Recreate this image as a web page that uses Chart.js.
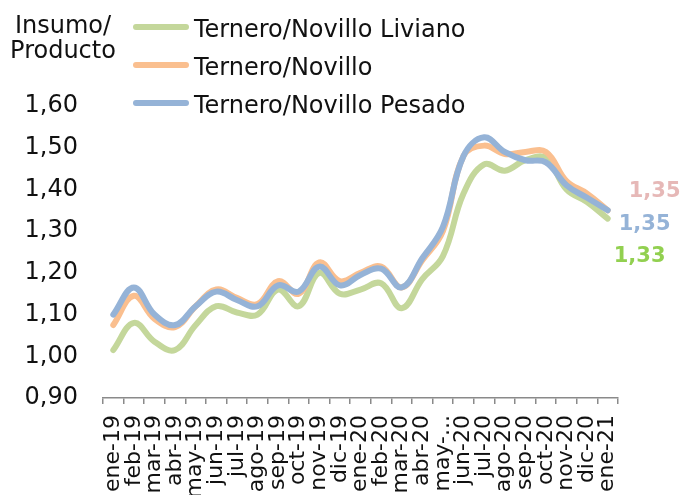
<!DOCTYPE html>
<html>
<head>
<meta charset="utf-8">
<script src="https://cdn.jsdelivr.net/npm/chart.js@4"></script>
<style>
html,body{margin:0;padding:0;background:#fff;}
#wrap{width:683px;height:495px;position:relative;}
</style>
</head>
<body>
<div id="wrap"><canvas id="c" width="683" height="495"></canvas></div>
<script>
const categories = ["ene-19","feb-19","mar-19","abr-19","may-19","jun-19","jul-19","ago-19","sep-19","oct-19","nov-19","dic-19","ene-20","feb-20","mar-20","abr-20","may-20","jun-20","jul-20","ago-20","sep-20","oct-20","nov-20","dic-20","ene-21"];
const tickLabels = ["ene-19","feb-19","mar-19","abr-19","may-19","jun-19","jul-19","ago-19","sep-19","oct-19","nov-19","dic-19","ene-20","feb-20","mar-20","abr-20","may-...","jun-20","jul-20","ago-20","sep-20","oct-20","nov-20","dic-20","ene-21"];
const liviano = [1.015,1.08,1.035,1.015,1.075,1.12,1.105,1.10,1.16,1.12,1.20,1.15,1.16,1.175,1.115,1.185,1.24,1.39,1.46,1.445,1.47,1.475,1.40,1.37,1.33];
const novillo = [1.075,1.145,1.09,1.07,1.12,1.16,1.14,1.125,1.18,1.15,1.225,1.18,1.20,1.215,1.165,1.23,1.30,1.48,1.505,1.485,1.49,1.49,1.42,1.39,1.35];
const pesado  = [1.10,1.165,1.10,1.075,1.12,1.155,1.135,1.12,1.17,1.155,1.215,1.17,1.195,1.21,1.165,1.235,1.31,1.48,1.525,1.49,1.47,1.465,1.41,1.38,1.35];
const seriesNames = ["Ternero/Novillo Liviano","Ternero/Novillo","Ternero/Novillo Pesado"];
const endLabels = ["1,33","1,35","1,35"];
const yTicks = [0.9,1.0,1.1,1.2,1.3,1.4,1.5,1.6];

const FONT = "'DejaVu Sans', sans-serif";
const lineColors = ["#C4D79B","#FABF8F","#95B3D7"];
const endColors = ["#92D050","#E6B8B7","#95B3D7"];
const endOffsets = [[6,38],[21,-19],[11,14]];

const overlay = {
  id:'overlay',
  afterDraw(chart){
    const ctx = chart.ctx;
    ctx.save();
    ctx.fillStyle = '#111';
    ctx.font = "24px " + FONT;
    ctx.textAlign = 'center';
    ctx.textBaseline = 'alphabetic';
    ctx.fillText('Insumo/', 63, 33);
    ctx.fillText('Producto', 63, 58);
    const ly = [27,65,103];
    for(let i=0;i<3;i++){
      ctx.strokeStyle = lineColors[i];
      ctx.lineWidth = 6;
      ctx.lineCap = 'round';
      ctx.beginPath();
      ctx.moveTo(136, ly[i]);
      ctx.lineTo(186, ly[i]);
      ctx.stroke();
      ctx.fillStyle = '#111';
      ctx.textAlign = 'left';
      ctx.font = "24px " + FONT;
      ctx.fillText(seriesNames[i], 194, ly[i]+10);
    }
    ctx.font = "bold 21px " + FONT;
    ctx.textAlign = 'left';
    ctx.textBaseline = 'middle';
    chart.data.datasets.forEach((ds, i) => {
      const meta = chart.getDatasetMeta(i);
      const pt = meta.data[meta.data.length-1];
      ctx.fillStyle = endColors[i];
      ctx.fillText(endLabels[i], pt.x + endOffsets[i][0], pt.y + endOffsets[i][1]);
    });
    ctx.restore();
  }
};

const mk = (label, data, i, order) => ({
  label, data,
  borderColor: lineColors[i],
  backgroundColor: lineColors[i],
  borderWidth: 6,
  borderCapStyle: 'round',
  borderJoinStyle: 'round',
  pointRadius: 0,
  tension: 0.4,
  fill: false,
  order
});

new Chart(document.getElementById('c'), {
  type: 'line',
  data: {
    labels: categories,
    datasets: [
      mk(seriesNames[0], liviano, 0, 3),
      mk(seriesNames[1], novillo, 1, 2),
      mk(seriesNames[2], pesado, 2, 1)
    ]
  },
  options: {
    responsive: false,
    animation: false,
    devicePixelRatio: 1,
    layout: { padding: { top: 106, right: 65, left: 0, bottom: 0 } },
    plugins: { legend: { display: false }, tooltip: { enabled: false } },
    scales: {
      x: {
        type: 'category',
        offset: true,
        grid: { display: true, drawOnChartArea: false, drawTicks: true, tickLength: 6, color: '#8a8a8a', lineWidth: 1.5, offset: true },
        border: { display: true, color: '#8a8a8a', width: 1.5 },
        ticks: {
          autoSkip: false, maxRotation: 90, minRotation: 90, padding: 11,
          color: '#111', font: { family: FONT, size: 22 },
          callback: (v, i) => tickLabels[i]
        },
        afterFit: s => { s.height = 97; }
      },
      y: {
        min: 0.9, max: 1.6,
        grid: { display: false, drawTicks: false },
        border: { display: false },
        afterBuildTicks: s => { s.ticks = yTicks.map(v => ({ value: v })); },
        ticks: {
          padding: 25, color: '#111', font: { family: FONT, size: 24 },
          callback: v => (Math.round(v*100)/100).toFixed(2).replace('.', ',')
        },
        afterFit: s => { s.width = 103; }
      }
    }
  },
  plugins: [overlay]
});
</script>
</body>
</html>
